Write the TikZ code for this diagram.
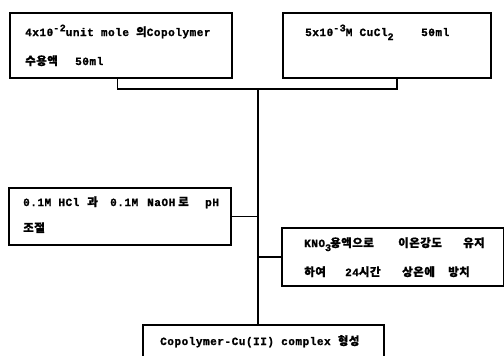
\documentclass[tikz,border=0pt]{standalone}
\usepackage{fontspec}
\setmonofont{Liberation Mono}[LetterSpace=5, BoldFeatures={FakeBold=1.2}]
\newfontfamily\kr{Noto Sans CJK KR}[LetterSpace=4, BoldFeatures={FakeBold=1}]
\newcommand\K[1]{{\kr\bfseries\fontsize{11.5}{13}\selectfont #1}}
\newcommand\sups[1]{\raisebox{0.8ex}{\fontsize{10}{10}\selectfont #1}}
\newcommand\subs[1]{\raisebox{-0.7ex}{\fontsize{10}{10}\selectfont #1}}
\newcommand\tcol[2]{\makebox[#1pt][l]{#2}}
\begin{document}
\begin{tikzpicture}[x=1pt,y=-1pt,
  box/.style={draw, line width=1.8pt, inner sep=0pt, anchor=north west},
  txt/.style={anchor=base west, inner sep=0pt, font=\fontsize{11}{13}\ttfamily\bfseries},
  conn/.style={line width=1.3pt}]
\useasboundingbox (0,0) rectangle (504,356);
\clip (0,0) rectangle (504,356);
\node[box, minimum width=222pt, minimum height=65pt] (b1) at (9,12) {};
\node[box, minimum width=208pt, minimum height=65pt] (b2) at (282,12) {};
\node[box, minimum width=222pt, minimum height=57pt] (b3) at (8,187) {};
\node[box, minimum width=222pt, minimum height=58pt] (b4) at (281,227) {};
\node[box, minimum width=241pt, minimum height=50pt] (b5) at (142,324) {};
\node[txt] (t1a) at (25,36) {4x10\sups{-2}unit mole \K{의}Copolymer};
\node[txt] (t1b) at (25,65) {\tcol{50}{\K{수용액}}50ml};
\node[txt] (t2a) at (305,36) {\tcol{116}{5x10\sups{-3}M CuCl\subs{2}}50ml};
\node[txt] (t3a) at (23,206) {\tcol{64}{0.1M HCl}\tcol{23}{\K{과}}\tcol{37}{0.1M}\tcol{31}{NaOH}\tcol{27}{\K{로}}pH};
\node[txt] (t3b) at (23,232) {\K{조절}};
\node[txt] (t4a) at (304,247) {\tcol{26}{KNO\subs{3}}\tcol{68}{\K{용액으로}}\tcol{65}{\K{이온강도}}\K{유지}};
\node[txt] (t4b) at (304,276) {\tcol{41}{\K{하여}}\tcol{57}{24\K{시간}}\tcol{46}{\K{상온에}}\K{방치}};
\node[txt] (t5) at (160,345) {Copolymer-Cu(II) complex \K{형성}};
\coordinate (j) at (258,89);
\draw[conn] ([xshift=-3.5pt]b1.south) |- (j) -| ([xshift=10pt]b2.south);
\draw[conn] (j) -- (j |- b5.north);
\draw[conn] (b3.east) -- (b3.east -| j);
\draw[conn] (b4.west) -- (b4.west -| j);
\end{tikzpicture}
\end{document}
